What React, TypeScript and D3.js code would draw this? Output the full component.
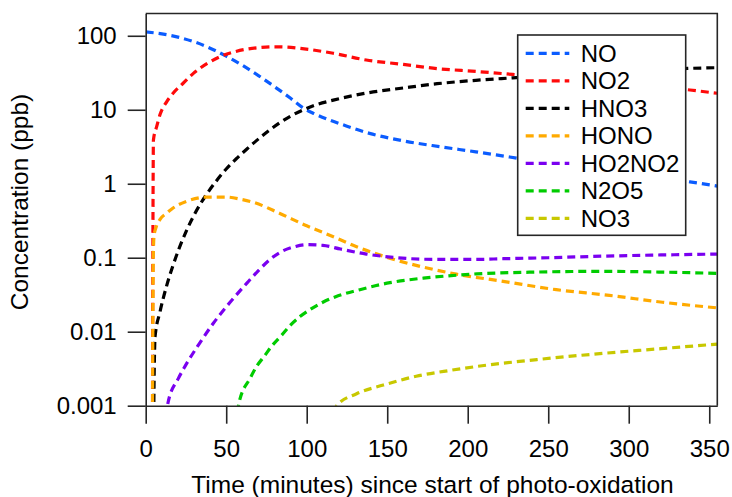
import React, { useRef, useEffect } from "react";
import * as d3 from "d3";

// time (minutes) / concentration (ppb) pairs
const NO = [[0, 113], [10, 106], [20, 96], [30, 83], [40, 68], [50, 53], [60, 40], [70, 29], [80, 20.5], [90, 14.3], [98, 10.5], [105, 8.8], [114, 7.3], [125, 6.0], [139, 4.8], [160, 3.8], [183, 3.16], [205, 2.7], [226, 2.3], [255, 1.85], [285, 1.5], [315, 1.25], [338, 1.06], [355, 0.93]];
const NO2 = [[4.2, 0.0005], [4.4, 0.05], [4.6, 1], [4.8, 3.9], [6.8, 5.9], [8.9, 8.6], [13, 12.8], [17, 16.7], [23.4, 23], [29.6, 31], [38, 42], [46, 52], [54.4, 60], [62.7, 66], [71, 69.5], [79, 71], [87, 70.5], [96, 67.6], [116.5, 58], [137, 47], [160, 41], [181, 36], [205, 33], [228, 30], [260, 26], [290, 23], [315, 21], [338, 18.5], [355, 16.7]];
const HNO3 = [[4.9, 0.0005], [5.3, 0.003], [5.8, 0.0085], [8.9, 0.0186], [13, 0.0417], [17, 0.079], [21, 0.138], [25, 0.224], [30, 0.376], [38, 0.73], [44, 1.1], [50, 1.58], [56.5, 2.2], [62.7, 2.93], [71, 4.2], [83.4, 6.7], [90, 8.2], [98, 10], [106, 11.7], [116.5, 13.5], [137, 16.8], [160, 19.7], [181, 22.5], [205, 25], [228, 27], [260, 30], [290, 32.5], [315, 34.5], [338, 36.3], [355, 37]];
const HONO = [[4.2, 0.0005], [4.5, 0.02], [4.7, 0.1], [5.2, 0.2], [6.5, 0.26], [8.9, 0.33], [13, 0.4], [17, 0.47], [25.5, 0.58], [38, 0.66], [50, 0.66], [60, 0.61], [67, 0.56], [83, 0.4], [100, 0.27], [110, 0.22], [117, 0.19], [131, 0.141], [152, 0.098], [172, 0.075], [193, 0.06], [222, 0.048], [255, 0.037], [288, 0.031], [321, 0.025], [355, 0.021]];
const HO2NO2 = [[12.5, 0.0007], [14, 0.00113], [20.3, 0.00234], [24.4, 0.0034], [32.7, 0.0066], [42, 0.013], [52.4, 0.025], [62.7, 0.045], [70, 0.067], [77, 0.094], [84, 0.12], [92, 0.14], [100, 0.15], [110, 0.147], [121, 0.131], [137, 0.112], [154, 0.101], [179, 0.095], [206, 0.095], [222, 0.097], [250, 0.1], [284, 0.105], [320, 0.109], [355, 0.112]];
const N2O5 = [[57, 0.0008], [57.9, 0.00108], [64.8, 0.00234], [68.9, 0.0034], [74.1, 0.0048], [78.3, 0.0064], [84.5, 0.009], [89.6, 0.0121], [95.8, 0.016], [103, 0.0205], [110.3, 0.0252], [117.6, 0.0295], [133, 0.037], [151.7, 0.046], [172.4, 0.053], [193, 0.058], [205.6, 0.0605], [242.8, 0.064], [284, 0.0655], [320, 0.064], [355, 0.0615]];
const NO3 = [[117, 0.0008], [118.6, 0.001], [131, 0.00145], [147.6, 0.0019], [168, 0.0025], [189, 0.003], [206, 0.0034], [243, 0.0042], [284, 0.0051], [320, 0.0059], [355, 0.0068]];

const seriesNames = ["NO", "NO2", "HNO3", "HONO", "HO2NO2", "N2O5", "NO3"];
const seriesData = [NO, NO2, HNO3, HONO, HO2NO2, N2O5, NO3];
const seriesColors = ["#0b5cff", "#ff0a0a", "#000000", "#ffaa00", "#7a00f0", "#00cc00", "#c8c800"];

const xTicks = [0, 50, 100, 150, 200, 250, 300, 350];
const yTicks = [0.001, 0.01, 0.1, 1, 10, 100];
const yTickLabels = ["0.001", "0.01", "0.1", "1", "10", "100"];

const FONT = "'Liberation Sans', Arial, sans-serif";
const AXIS = "#262626";

const App = () => {
	const ref = useRef<SVGSVGElement>(null);

	useEffect(() => {
		const svg = d3.select(ref.current);
		svg.selectAll("*").remove();

		const left = 145.7, right = 717.3, top = 13.5, bottom = 405.7;

		const x = d3.scaleLinear().domain([0, 355]).range([left, right]);
		const y = d3.scaleLog().domain([0.001, 200]).range([bottom, top]);

		svg.append("defs")
			.append("clipPath")
			.attr("id", "plot-clip")
			.append("rect")
			.attr("x", left)
			.attr("y", top)
			.attr("width", right - left)
			.attr("height", bottom - top);

		// series
		const line = d3
			.line<number[]>()
			.x((d) => x(d[0]))
			.y((d) => y(d[1]))
			.curve(d3.curveMonotoneX);

		const lines = svg.append("g").attr("clip-path", "url(#plot-clip)");
		seriesData.forEach((s, i) => {
			lines.append("path")
				.attr("d", line(s))
				.style("fill", "none")
				.style("stroke", seriesColors[i])
				.style("stroke-width", 3.2)
				.style("stroke-dasharray", "8,5");
		});

		// frame (top and right)
		svg.append("path")
			.attr("d", `M${left},${top}H${right}V${bottom}`)
			.style("fill", "none")
			.style("stroke", AXIS)
			.style("stroke-width", 1.6);

		const xAxis = svg.append("g")
			.attr("transform", `translate(0,${bottom})`)
			.call(d3.axisBottom(x).tickValues(xTicks).tickSize(18).tickSizeOuter(0).tickPadding(16.3));

		const yAxis = svg.append("g")
			.attr("transform", `translate(${left},0)`)
			.call(
				d3.axisLeft(y)
					.tickValues(yTicks)
					.tickFormat((d, i) => yTickLabels[i])
					.tickSize(18)
					.tickSizeOuter(0)
					.tickPadding(11)
			);

		[xAxis, yAxis].forEach((g) => {
			g.attr("font-family", FONT).attr("font-size", 24);
			g.select(".domain").style("stroke", AXIS).style("stroke-width", 1.6);
			g.selectAll(".tick line").style("stroke", AXIS).style("stroke-width", 1.6);
			g.selectAll(".tick text").style("fill", "#000");
		});

		// axis titles
		svg.append("text")
			.attr("x", 432.5)
			.attr("y", 493)
			.attr("text-anchor", "middle")
			.attr("font-family", FONT)
			.attr("font-size", 24.5)
			.text("Time (minutes) since start of photo-oxidation");

		svg.append("text")
			.attr("transform", "translate(28,202) rotate(-90)")
			.attr("text-anchor", "middle")
			.attr("font-family", FONT)
			.attr("font-size", 24.5)
			.text("Concentration (ppb)");

		// legend
		const legend = svg.append("g");
		legend.append("rect")
			.attr("x", 517.7)
			.attr("y", 35)
			.attr("width", 168)
			.attr("height", 200.3)
			.style("fill", "#fff")
			.style("stroke", AXIS)
			.style("stroke-width", 1.6);

		seriesNames.forEach((name, i) => {
			const cy = 53.3 + i * 27.5;
			legend.append("line")
				.attr("x1", 525.7)
				.attr("x2", 569.3)
				.attr("y1", cy)
				.attr("y2", cy)
				.style("stroke", seriesColors[i])
				.style("stroke-width", 3.2)
				.style("stroke-dasharray", "8,5");
			legend.append("text")
				.attr("x", 580.7)
				.attr("y", cy + 8.6)
				.attr("font-family", FONT)
				.attr("font-size", 24)
				.text(name);
		});
	}, []);

	return (
		<svg
			ref={ref}
			width={732}
			height={497}
			style={{ position: "absolute", left: 0, top: 0, background: "#fff" }}
		/>
	);
};

export default App;
